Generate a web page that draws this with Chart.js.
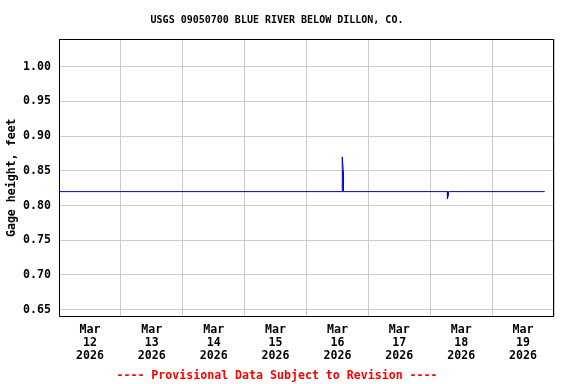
<!DOCTYPE html>
<html>
<head>
<meta charset="utf-8">
<script src="https://cdn.jsdelivr.net/npm/chart.js@4/dist/chart.umd.min.js"></script>
<style>
  html, body { margin: 0; padding: 0; background: #fff; }
  #wrap { width: 576px; height: 384px; position: relative; }
</style>
</head>
<body>
<div id="wrap"><canvas id="chart"></canvas></div>
<script>
    'use strict';

    // Days since Mar 12 2026 00:00, and gage height (feet)
    const dayOffsets = [0, 4.578, 4.578, 4.594, 4.594, 6.278, 6.278, 6.294, 6.294, 7.85];
    const gageHeights = [0.82, 0.82, 0.87, 0.85, 0.82, 0.82, 0.81, 0.815, 0.82, 0.82];

    const dayLabels = ['12', '13', '14', '15', '16', '17', '18', '19'];
    const monthLabel = 'Mar';
    const yearLabel = '2026';
    const yTicks = [0.65, 0.70, 0.75, 0.80, 0.85, 0.90, 0.95, 1.00];

    const FONT = '"DejaVu Sans Mono", "Liberation Mono", monospace';

    const frame = {
        id: 'frame',
        afterDraw: function(chart) {
            const a = chart.chartArea, ctx = chart.ctx;
            ctx.save();
            ctx.strokeStyle = '#000';
            ctx.lineWidth = 1;
            ctx.strokeRect(Math.round(a.left) + 0.5, Math.round(a.top) + 0.5,
                Math.round(a.right - a.left) - 1, Math.round(a.bottom - a.top));
            ctx.restore();
        }
    };

    new Chart(document.getElementById('chart'), {
        type: 'line',
        data: {
            datasets: [{
                data: dayOffsets.map(function(d, i) { return { x: d, y: gageHeights[i] }; }),
                borderColor: '#0000c8',
                borderWidth: 1,
                pointRadius: 0,
                tension: 0,
                fill: false
            }]
        },
        options: {
            responsive: true,
            maintainAspectRatio: false,
            animation: false,
            events: [],
            layout: { padding: { left: 0, right: 22, top: 0, bottom: 0 } },
            plugins: {
                legend: { display: false },
                tooltip: { enabled: false },
                title: {
                    display: true,
                    text: 'USGS 09050700 BLUE RIVER BELOW DILLON, CO.',
                    color: '#000',
                    font: { family: FONT, size: 10, weight: 'bold', lineHeight: 1.2 },
                    padding: { top: 14, bottom: 13 }
                },
                subtitle: {
                    display: true,
                    position: 'bottom',
                    text: '---- Provisional Data Subject to Revision ----',
                    color: '#ff0000',
                    font: { family: FONT, size: 11.6, weight: 'bold', lineHeight: 1.2 },
                    padding: { top: 0, bottom: 1 }
                }
            },
            scales: {
                x: {
                    type: 'linear',
                    min: 0,
                    max: 8,
                    border: { display: false },
                    afterBuildTicks: function(scale) {
                        const t = [];
                        for (let i = 0; i <= 16; i++) t.push({ value: i / 2 });
                        scale.ticks = t;
                    },
                    afterFit: function(scale) { scale.height = 52.6; },
                    grid: {
                        drawTicks: false,
                        color: function(c) { return (c.tick && Number.isInteger(c.tick.value)) ? '#cccccc' : 'rgba(0,0,0,0)'; }
                    },
                    ticks: {
                        autoSkip: false,
                        maxRotation: 0,
                        padding: 7,
                        color: '#000',
                        font: { family: FONT, size: 11.6, weight: 'bold', lineHeight: '13px' },
                        callback: function(v) {
                            if (Number.isInteger(v)) return '';
                            const i = Math.floor(v);
                            return [monthLabel, dayLabels[i], yearLabel];
                        }
                    }
                },
                y: {
                    min: 0.64,
                    max: 1.04,
                    border: { display: false },
                    afterBuildTicks: function(scale) {
                        scale.ticks = yTicks.map(function(v) { return { value: v }; });
                    },
                    afterFit: function(scale) { scale.width = 59; },
                    grid: { drawTicks: false, color: '#cccccc' },
                    ticks: {
                        padding: 8,
                        color: '#000',
                        font: { family: FONT, size: 11.6, weight: 'bold' },
                        callback: function(v) { return v.toFixed(2); }
                    },
                    title: {
                        display: true,
                        text: 'Gage height, feet',
                        color: '#000',
                        font: { family: FONT, size: 11.6, weight: 'bold', lineHeight: 1.2 },
                        padding: { top: 5, bottom: 0 }
                    }
                }
            }
        },
        plugins: [frame]
    });
</script>
</body>
</html>
